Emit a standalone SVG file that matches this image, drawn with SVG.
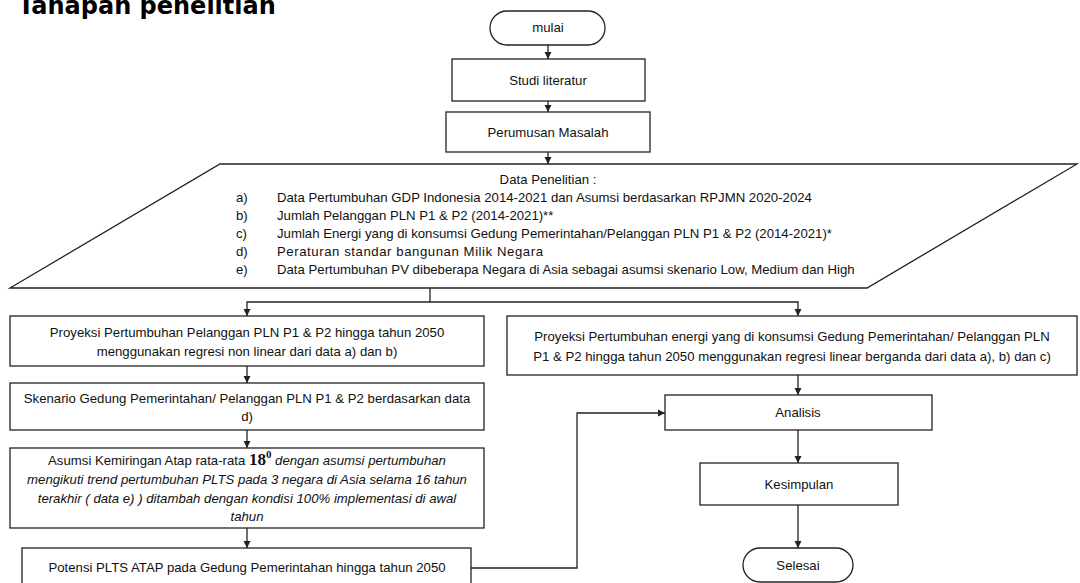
<svg xmlns="http://www.w3.org/2000/svg" width="1080" height="583" viewBox="0 0 1080 583">
<style>
.t{font-family:"Liberation Sans",Arial,sans-serif;font-size:13.2px;fill:#111}
.c{text-anchor:middle}
.it{font-style:italic}
.box{fill:#fff;stroke:#222;stroke-width:1.3}
.ln{fill:none;stroke:#222;stroke-width:1.3}
.title{font-family:"DejaVu Sans",Verdana,sans-serif;font-weight:bold;font-size:24px;fill:#000}
</style>
<defs>
<marker id="ah" markerWidth="8" markerHeight="8" refX="7" refY="4" orient="auto" markerUnits="userSpaceOnUse">
<path d="M0,0.5 L7,4 L0,7.5 z" fill="#222"/>
</marker>
</defs>
<rect width="1080" height="583" fill="#fff"/>
<text class="title" x="18" y="14">Tahapan penelitian</text>

<g id="connectors">
<path class="ln" d="M548,45 V59" marker-end="url(#ah)"/>
<path class="ln" d="M548,101 V112" marker-end="url(#ah)"/>
<path class="ln" d="M548,152 V164" marker-end="url(#ah)"/>
<path class="ln" d="M430,288 V302"/>
<path class="ln" d="M430,302 H247 V316" marker-end="url(#ah)"/>
<path class="ln" d="M430,302 H798 V316" marker-end="url(#ah)"/>
<path class="ln" d="M247,366 V383" marker-end="url(#ah)"/>
<path class="ln" d="M247,430 V448" marker-end="url(#ah)"/>
<path class="ln" d="M247,528 V548" marker-end="url(#ah)"/>
<path class="ln" d="M471,568 H577 V413 H665" marker-end="url(#ah)"/>
<path class="ln" d="M798,375 V395" marker-end="url(#ah)"/>
<path class="ln" d="M798,430 V463" marker-end="url(#ah)"/>
<path class="ln" d="M798,505 V548" marker-end="url(#ah)"/>
</g>

<g id="mulai">
<rect class="box" x="490" y="11" width="115" height="34" rx="17"/>
<text class="t c" x="548" y="32">mulai</text>
</g>
<g id="studi">
<rect class="box" x="452" y="59" width="193" height="42"/>
<text class="t c" x="548" y="85">Studi literatur</text>
</g>
<g id="perumusan">
<rect class="box" x="446" y="112" width="204" height="40"/>
<text class="t c" x="548" y="137">Perumusan Masalah</text>
</g>
<g id="data">
<path class="box" d="M220,164 L1077,164 L867,288 L10,288 Z"/>
<text class="t c" x="548" y="184">Data Penelitian :</text>
<text class="t" x="236" y="202">a)</text>
<text class="t" x="277" y="202">Data Pertumbuhan GDP Indonesia 2014-2021 dan Asumsi berdasarkan RPJMN 2020-2024</text>
<text class="t" x="236" y="220">b)</text>
<text class="t" x="277" y="220">Jumlah Pelanggan PLN P1 &amp; P2 (2014-2021)**</text>
<text class="t" x="236" y="238">c)</text>
<text class="t" x="277" y="238">Jumlah Energi yang di konsumsi Gedung Pemerintahan/Pelanggan  PLN P1 &amp; P2 (2014-2021)*</text>
<text class="t" x="236" y="256">d)</text>
<text class="t" x="277" y="256" textLength="266" lengthAdjust="spacing">Peraturan standar bangunan Milik Negara</text>
<text class="t" x="236" y="274">e)</text>
<text class="t" x="277" y="274">Data Pertumbuhan PV dibeberapa Negara di Asia sebagai asumsi skenario Low, Medium dan High</text>
</g>
<g id="proyeksi-pelanggan">
<rect class="box" x="10" y="316" width="474" height="50"/>
<text class="t c" x="247" y="337">Proyeksi Pertumbuhan Pelanggan PLN P1 &amp; P2 hingga tahun 2050</text>
<text class="t c" x="247" y="356">menggunakan regresi non linear dari data a) dan b)</text>
</g>
<g id="proyeksi-energi">
<rect class="box" x="507" y="316" width="570" height="59"/>
<text class="t c" x="792" y="341">Proyeksi Pertumbuhan energi yang di konsumsi Gedung Pemerintahan/ Pelanggan PLN</text>
<text class="t c" x="792" y="361">P1 &amp; P2 hingga tahun 2050 menggunakan regresi linear berganda  dari data a), b) dan c)</text>
</g>
<g id="skenario">
<rect class="box" x="10" y="383" width="474" height="47"/>
<text class="t c" x="247" y="403">Skenario Gedung Pemerintahan/ Pelanggan PLN P1 &amp; P2 berdasarkan data</text>
<text class="t c" x="247" y="421">d)</text>
</g>
<g id="asumsi">
<rect class="box" x="10" y="448" width="474" height="80"/>
<text class="t c" x="247" y="465">Asumsi Kemiringan Atap rata-rata <tspan font-family="'Liberation Serif',serif" font-weight="bold" font-size="17">18</tspan><tspan font-family="'Liberation Serif',serif" font-weight="bold" font-size="11" dy="-7">0</tspan><tspan class="it" dy="7"> dengan asumsi pertumbuhan</tspan></text>
<text class="t c it" x="247" y="484">mengikuti trend pertumbuhan PLTS pada 3 negara di Asia selama 16 tahun</text>
<text class="t c it" x="247" y="502.5">terakhir ( data e) ) ditambah dengan kondisi 100% implementasi di awal</text>
<text class="t c it" x="247" y="521">tahun</text>
</g>
<g id="potensi">
<rect class="box" x="22" y="548" width="449" height="50"/>
<text class="t c" x="247" y="572">Potensi PLTS ATAP pada Gedung Pemerintahan hingga tahun 2050</text>
</g>
<g id="analisis">
<rect class="box" x="665" y="395" width="267" height="35"/>
<text class="t c" x="798" y="417">Analisis</text>
</g>
<g id="kesimpulan">
<rect class="box" x="700" y="463" width="198" height="42"/>
<text class="t c" x="799" y="488.5">Kesimpulan</text>
</g>
<g id="selesai">
<rect class="box" x="743" y="548" width="110" height="34" rx="17"/>
<text class="t c" x="798" y="569.5">Selesai</text>
</g>
</svg>
